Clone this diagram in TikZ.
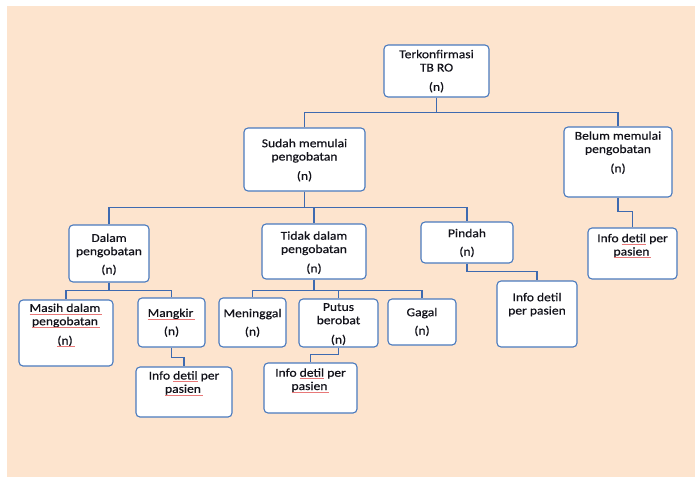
\documentclass[tikz,border=0pt]{standalone}
\usepackage{fontspec}
\setmainfont{Carlito}[FakeStretch=1.13,FakeBold=0.5]
\definecolor{peach}{RGB}{253,228,206}
\definecolor{boxblue}{RGB}{74,122,190}
\definecolor{linkblue}{RGB}{62,106,176}
\definecolor{sqred}{RGB}{232,120,120}
\definecolor{txtcol}{RGB}{18,18,26}
\newcommand\sq[1]{\setbox0\hbox{#1}\rlap{\copy0}{\color{sqred}\rule[-2.2pt]{\wd0}{0.5pt}}}
\tikzset{
  box/.style={draw=boxblue, line width=1.1pt, fill=white, rounded corners=4pt, inner sep=0pt},
  txt/.style={anchor=north, align=center, inner sep=0pt, text=txtcol,
    font=\fontsize{12}{13.3}\selectfont},
  conn/.style={draw=linkblue, line width=1.2pt}
}
% name, x1, y1, x2, y2
\newcommand\bx[5]{\node[box, minimum width={#4-#2}, minimum height={#5-#3}] (#1) at ({(#2+#4)/2},{(#3+#5)/2}) {};}
% name, center x, first baseline y, text
\newcommand\tx[4]{\node[txt] (#1) at (#2,{#3-10}) {\rule{0pt}{10pt}#4};}
\begin{document}
\begin{tikzpicture}[x=1pt,y=-1pt]
\useasboundingbox (0,0) rectangle (695,477);
\fill[peach] (7,6) rectangle (695,477);

% boxes
\bx{t}{384}{45}{489}{97}
\bx{s}{244}{128}{365}{191}
\bx{b}{564}{127}{672}{197}
\bx{bi}{588}{228}{677}{279}
\bx{d}{69}{225}{149}{282}
\bx{td}{262}{224}{366}{279}
\bx{p}{421}{222}{513}{263}
\bx{pi}{497}{281}{577}{347}
\bx{ma}{19}{300}{113}{366}
\bx{mk}{138}{298}{205}{347}
\bx{mki}{136}{367}{232}{417}
\bx{me}{219}{298}{286}{347}
\bx{pu}{299}{299}{378}{347}
\bx{pui}{264}{363}{357}{413}
\bx{g}{388}{299}{456}{345}

% texts
\tx{t-t}{436.5}{58}{Terkonfirmasi\\TB RO\\[6pt](n)}
\tx{s-t}{304.5}{147}{Sudah memulai\\pengobatan\\[6pt](n)}
\tx{b-t}{618}{139.5}{Belum memulai\\pengobatan\\[6pt](n)}
\tx{bi-t}{632.5}{242}{Info \sq{detil} per\\\sq{pasien\,}}
\tx{d-t}{109}{241.7}{Dalam\\pengobatan\\[5pt](n)}
\tx{td-t}{314}{239.5}{Tidak dalam\\pengobatan\\[6pt](n)}
\tx{p-t}{467}{237}{Pindah\\[5pt](n)}
\tx{pi-t}{537}{301}{Info detil\\per pasien}
\tx{ma-t}{66}{311.7}{\sq{Masih dalam\,}\\\sq{pengobatan\,}\\[6pt]\sq{(n)\,}}
\tx{mk-t}{171.5}{316.7}{\sq{Mangkir\,}\\[5pt](n)}
\tx{mki-t}{184}{379.3}{Info \sq{detil} per\\\sq{pasien\,}}
\tx{me-t}{252.5}{317}{Meninggal\\[5pt](n)}
\tx{pu-t}{338.5}{310.7}{Putus\\berobat\\[6pt](n)}
\tx{pui-t}{310.5}{376.5}{Info \sq{detil} per\\\sq{pasien\,}}
\tx{g-t}{422}{316}{Gagal\\[5pt](n)}

% connectors
\draw[conn] (t.south) -- ++(0,15) -| (s.north);
\draw[conn] (t.south) -- ++(0,15) -| (b.north);
\draw[conn] (b.south) -- ++(0,14) -| (bi.north);
\draw[conn] (s.south) -- ++(0,16) -| (d.north);
\draw[conn] (s.south) -- ++(0,16) -| (td.north);
\draw[conn] (s.south) -- ++(0,16) -| (p.north);
\draw[conn] (p.south) -- ++(0,8) -| (pi.north);
\draw[conn] (d.south) -- ++(0,8) -| (ma.north);
\draw[conn] (d.south) -- ++(0,8) -| (mk.north);
\draw[conn] (mk.south) -- ++(0,10) -| (mki.north);
\draw[conn] (td.south) -- ++(0,11) -| (me.north);
\draw[conn] (td.south) -- ++(0,11) -| (pu.north);
\draw[conn] (td.south) -- ++(0,11) -| (g.north);
\draw[conn] (pu.south) -- ++(0,7) -| (pui.north);
\end{tikzpicture}
\end{document}
